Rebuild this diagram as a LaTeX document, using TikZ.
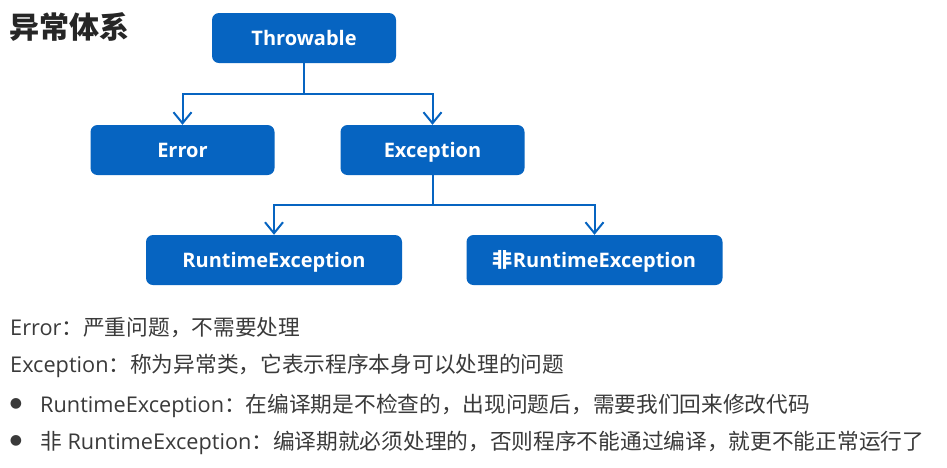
\documentclass[tikz,border=0pt]{standalone}
\usepackage{fontspec}
\setmainfont{Open Sans}
\newfontfamily\cjk{Noto Sans CJK SC}
\newfontfamily\sym{DejaVu Sans}
\usetikzlibrary{arrows.meta,positioning}
\definecolor{exblue}{HTML}{0664C1}
\definecolor{exdark}{HTML}{3A3A3A}
\definecolor{extitle}{HTML}{262626}
\tikzset{
  cls/.style={rounded corners=7pt,fill=exblue,text=white,align=center,inner sep=0pt,text height=16pt,text depth=2pt,minimum height=50pt,minimum width=184pt,font=\fontsize{20}{24}\selectfont\bfseries},
  widecls/.style={cls,minimum width=256pt},
  ar/.style={-{Straight Barb[length=11pt,width=18pt]},draw=exblue,line width=2pt},
  desc/.style={anchor=base west,inner sep=0pt,text=exdark,font=\fontsize{21.7}{26}\selectfont},
  dot/.style={inner sep=0pt,text=exdark,font=\sym\fontsize{14}{16}\selectfont},
}
\begin{document}
\begin{tikzpicture}[x=1pt,y=-1pt]
  \fill[white] (0,0) rectangle (947,467);
  \useasboundingbox (0,0) rectangle (947,467);
  \node[anchor=west,inner sep=0pt,text=extitle,font=\cjk\bfseries\fontsize{30}{33}\selectfont] (title) at (9,27) {异常体系};
  % class tree
  \node[cls] (thr) at (304,38) {Throwable};
  \node[cls] (err) at (182.5,150) {Error};
  \node[cls] (exc) at (432.5,150) {Exception};
  \node[widecls] (rte) at (274,260) {RuntimeException};
  \node[widecls] (nrte) at (594.5,260) {{\cjk\bfseries 非}RuntimeException};
  \draw[ar] (thr.south) -- ++(0,31) -| (err.north);
  \draw[ar] (thr.south) -- ++(0,31) -| (exc.north);
  \draw[ar] (exc.south) -- ++(0,30) -| (rte.north);
  \draw[ar] (exc.south) -- ++(0,30) -| (nrte.north);
  % notes
  \node[desc] (l1) at (10,335) {Error{\cjk ：严重问题，不需要处理}};
  \node[desc] (l2) at (10,372) {Exception{\cjk ：称为异常类，它表示程序本身可以处理的问题}};
  \node[dot] (b1) at (16,404) {●};
  \node[desc] (l3) at (40,412) {RuntimeException{\cjk ：在编译期是不检查的，出现问题后，需要我们回来修改代码}};
  \node[dot] (b2) at (16,441) {●};
  \node[desc] (l4) at (40,449) {{\cjk 非} RuntimeException{\cjk ：编译期就必须处理的，否则程序不能通过编译，就更不能正常运行了}};
\end{tikzpicture}
\end{document}
